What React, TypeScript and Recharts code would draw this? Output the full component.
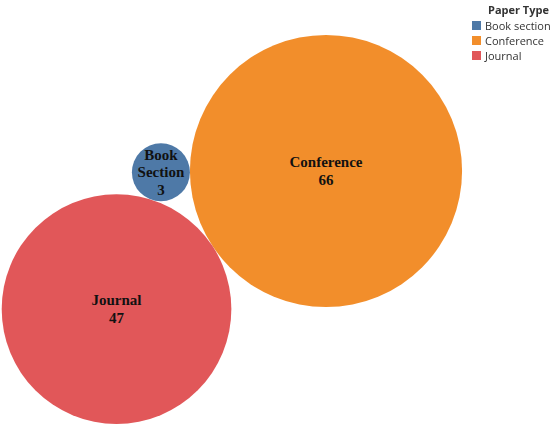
import React from "react";
import { ScatterChart, Scatter, XAxis, YAxis, ZAxis, Cell } from "recharts";

const paperTypes = ["Conference", "Journal", "Book section"];
const counts = [66, 47, 3];
const bubbleLabels = [["Conference"], ["Journal"], ["Book", "Section"]];
const colors = ["#f28e2b", "#e15759", "#4e79a7"];
const legendOrder = ["Book section", "Conference", "Journal"];

const W = 550;
const H = 427;
const PX_PER_UNIT = 16.75; // pixels per sqrt(count)
const SECOND_ANGLE = (213.4 * Math.PI) / 180;

// simple front-chain packing: largest at origin, second tangent at an angle, third tangent to both
function packBubbles(values: number[]) {
  const r = values.map((v) => Math.sqrt(v));
  const a = { x: 0, y: 0 };
  const dAB = r[0] + r[1];
  const b = { x: dAB * Math.cos(SECOND_ANGLE), y: dAB * Math.sin(SECOND_ANGLE) };
  const dAC = r[0] + r[2];
  const dBC = r[1] + r[2];
  const ang = Math.acos((dAB * dAB + dAC * dAC - dBC * dBC) / (2 * dAB * dAC));
  const c = { x: dAC * Math.cos(SECOND_ANGLE - ang), y: dAC * Math.sin(SECOND_ANGLE - ang) };
  return [a, b, c];
}

const centers = packBubbles(counts);
const data = paperTypes.map((name, i) => ({
  name,
  value: counts[i],
  x: centers[i].x,
  y: centers[i].y,
  lines: bubbleLabels[i],
}));

// place the largest bubble centre at (326, 171) px
const xMin = -326 / PX_PER_UNIT;
const xMax = xMin + W / PX_PER_UNIT;
const yMax = 171 / PX_PER_UNIT;
const yMin = yMax - H / PX_PER_UNIT;

const Bubble = (props: any) => {
  const { cx, cy, width, payload, fill } = props;
  const r = width / 2;
  const lines: string[] = [...payload.lines, String(payload.value)];
  const lh = 17.5;
  const start = cy - ((lines.length - 1) * lh) / 2;
  return (
    <g>
      <circle cx={cx} cy={cy} r={r} fill={fill} />
      {lines.map((t, i) => (
        <text
          key={i}
          x={cx}
          y={start + i * lh}
          textAnchor="middle"
          dominantBaseline="central"
          fontFamily="'Liberation Serif', serif"
          fontWeight="bold"
          fontSize={15}
          fill="#111"
        >
          {t}
        </text>
      ))}
    </g>
  );
};

export default function App() {
  return (
    <div style={{ position: "fixed", left: 0, top: 0, width: W, height: H, background: "#fff" }}>
      <ScatterChart width={W} height={H} margin={{ top: 0, right: 0, bottom: 0, left: 0 }}>
        <XAxis type="number" dataKey="x" domain={[xMin, xMax]} hide allowDataOverflow />
        <YAxis type="number" dataKey="y" domain={[yMin, yMax]} hide allowDataOverflow />
        <ZAxis
          type="number"
          dataKey="value"
          domain={[0, 66]}
          range={[0, Math.PI * PX_PER_UNIT * PX_PER_UNIT * 66]}
        />
        <Scatter data={data} shape={<Bubble />} isAnimationActive={false}>
          {data.map((d, i) => (
            <Cell key={d.name} fill={colors[i]} />
          ))}
        </Scatter>
      </ScatterChart>
      <div
        style={{
          position: "absolute",
          left: 472,
          top: 2,
          fontFamily: "'Open Sans', sans-serif",
          fontSize: 11,
          color: "#333",
          whiteSpace: "nowrap",
        }}
      >
        <div style={{ fontWeight: "bold", marginLeft: 16, lineHeight: "16px" }}>Paper Type</div>
        {legendOrder.map((name) => (
          <div key={name} style={{ display: "flex", alignItems: "center", height: 15 }}>
            <span
              style={{
                width: 9,
                height: 9,
                background: colors[paperTypes.findIndex((p) => p.toLowerCase() === name.toLowerCase())],
                marginRight: 4,
                display: "inline-block",
                flexShrink: 0,
              }}
            />
            <span>{name}</span>
          </div>
        ))}
      </div>
    </div>
  );
}
